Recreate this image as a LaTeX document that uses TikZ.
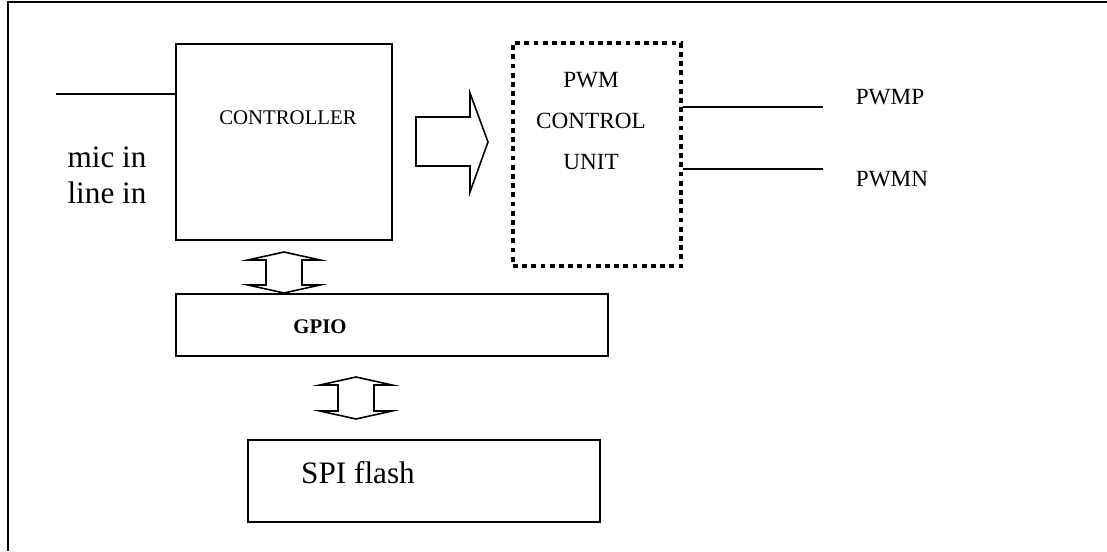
\documentclass[tikz,border=0pt]{standalone}
\usepackage{fontspec}
\setmainfont{Liberation Serif}
\usepackage{tikz}
\usetikzlibrary{calc}
\tikzset{
  % ---- blocks -----------------------------------------------------------
  blkbox/.style={draw=black, line width=0.8pt, fill=white, inner sep=0pt},
  dotbox/.style={draw=black, line width=2.4pt, dash pattern=on 2.4pt off 2.2pt,
                 inner sep=0pt},
  % ---- lines and arrows -------------------------------------------------
  wire/.style={draw=black, line width=0.8pt},
  blk/.style={draw=black, line width=0.8pt, line join=miter},
  frame/.style={draw=black, line width=1pt},
  % ---- labels -----------------------------------------------------------
  bigtxt/.style={font=\fontsize{15.6}{18}\selectfont, align=center, inner sep=0pt},
  smtxt/.style={font=\fontsize{11.6}{20.5}\selectfont, align=center, inner sep=0pt},
  boldtxt/.style={font=\fontsize{10.4}{12}\selectfont\bfseries, inner sep=0pt},
}
% vertical double block arrow: x, top tip, bottom tip
\newcommand{\dblarrow}[3]{%
  \draw[blk] (#1,#2) -- (#1+36,#2+8) -- (#1+18,#2+8) -- (#1+18,#3-8)
    -- (#1+36,#3-8) -- (#1,#3) -- (#1-36,#3-8) -- (#1-18,#3-8)
    -- (#1-18,#2+8) -- (#1-36,#2+8) -- cycle;}

\begin{document}
\begin{tikzpicture}[x=0.5pt,y=-0.5pt]
\useasboundingbox (0,0) rectangle (1107,551);

% outer frame (open at right and bottom)
\draw[frame] (8,551) -- (8,2) -- (1107,2);

% ============================ blocks ======================================
\node[blkbox, minimum width=108pt, minimum height=98pt] (ctrl) at (284,142) {};
\node[smtxt, font=\fontsize{10.4}{12}\selectfont] (ctrltxt) at (288,118) {CONTROLLER};

\node[dotbox, minimum width=84pt, minimum height=111.5pt] (pwm) at (597,154.5) {};
\node[smtxt] (pwmtxt) at (591,121) {PWM\\CONTROL\\UNIT};

\node[blkbox, minimum width=216pt, minimum height=31pt] (gpio) at (392,325) {};
\node[boldtxt] (gpiotxt) at (320,327) {GPIO};

\node[blkbox, minimum width=176pt, minimum height=41pt] (spi) at (424,481) {};
\node[bigtxt] (spitxt) at (358,473) {SPI flash};

% ============================ inputs / outputs ============================
\node[bigtxt] (inputs) at (107,175) {mic in\\line in};
\coordinate (micin) at (56,94);
\draw[wire] (micin) -- (micin -| ctrl.west);

\coordinate (pwmpend) at (823,107);
\coordinate (pwmnend) at (823,169);
\draw[wire] (pwmpend -| pwm.east) -- (pwmpend);
\draw[wire] (pwmnend -| pwm.east) -- (pwmnend);
\node[smtxt] (pwmp) at (890,97) {PWMP};
\node[smtxt] (pwmn) at (892,179) {PWMN};

% ============================ block arrows ================================
\draw[blk] (416,117) -- (470,117) -- (470,93) -- (488,142) -- (470,192)
  -- (470,166) -- (416,166) -- cycle;
\dblarrow{284}{252}{293}
\dblarrow{356}{377}{419}

\end{tikzpicture}
\end{document}
